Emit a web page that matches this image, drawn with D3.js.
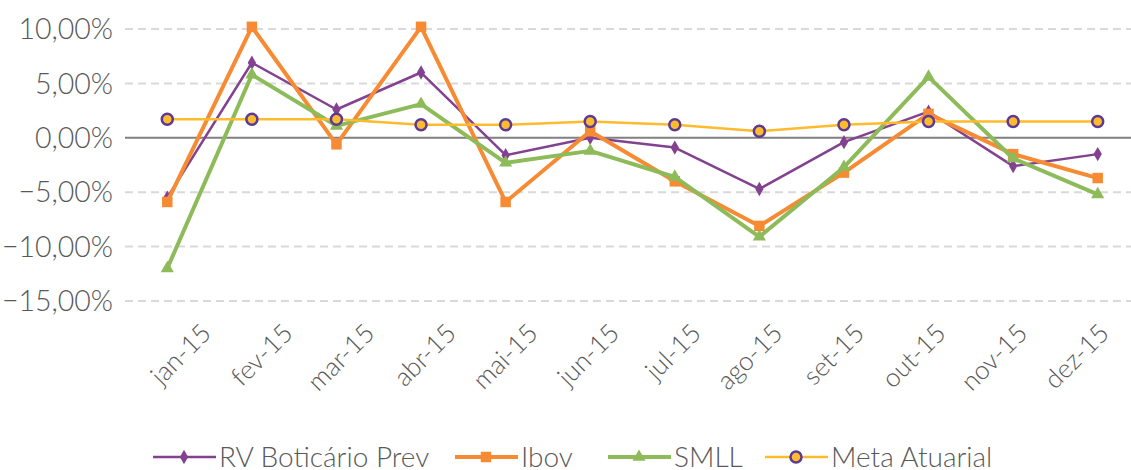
<!DOCTYPE html>
<html>
<head>
<meta charset="utf-8">
<script src="https://cdn.jsdelivr.net/npm/d3@7"></script>
<style>
  body { margin: 0; background: #fff; }
  text { font-family: "Lato", "Open Sans", sans-serif; fill: #595959; }
</style>
</head>
<body>
<div id="chart"></div>
<script>
// data (monthly returns, %)
var months = ["jan-15","fev-15","mar-15","abr-15","mai-15","jun-15","jul-15","ago-15","set-15","out-15","nov-15","dez-15"];
var rvBoticario = [-5.5, 6.9, 2.6, 6.0, -1.6, 0.0, -0.9, -4.7, -0.4, 2.4, -2.6, -1.5];
var ibov = [-5.9, 10.2, -0.6, 10.2, -5.9, 0.6, -4.0, -8.1, -3.2, 2.2, -1.5, -3.7];
var smll = [-12.0, 5.8, 1.1, 3.1, -2.3, -1.2, -3.6, -9.1, -2.7, 5.6, -1.9, -5.2];
var metaAtuarial = [1.7, 1.7, 1.7, 1.2, 1.2, 1.5, 1.2, 0.6, 1.2, 1.5, 1.5, 1.5];
var yTicks = [-15, -10, -5, 0, 5, 10];

var width = 1131, height = 470;

var svg = d3.select("#chart")
    .append("svg")
    .attr("width", width)
    .attr("height", height);

var x = d3.scaleBand().domain(months).range([125, 1140]);
var y = d3.scaleLinear().domain([-15, 10]).range([301, 29]);
function cx(d) { return x(d) + x.bandwidth() / 2; }

// the rotated labels sit on a slightly tighter spacing than the points
var xLab = d3.scalePoint().domain(months).range([199, 1097]);

var fmt = function (v) { return d3.format(".2f")(v).replace(".", ",") + "%"; };

// gridlines
svg.selectAll(".grid")
    .data(yTicks.filter(function (d) { return d !== 0; }))
    .enter().append("line")
    .attr("x1", 125).attr("x2", width)
    .attr("y1", function (d) { return y(d); })
    .attr("y2", function (d) { return y(d); })
    .style("stroke", "#d9d9d9")
    .style("stroke-width", 2)
    .style("stroke-dasharray", "8,5");

svg.append("line")
    .attr("x1", 125).attr("x2", width)
    .attr("y1", y(0)).attr("y2", y(0))
    .style("stroke", "#808080")
    .style("stroke-width", 2);

// y labels
svg.selectAll(".ylab")
    .data(yTicks)
    .enter().append("text")
    .attr("x", 113)
    .attr("y", function (d) { return y(d); })
    .attr("dy", "0.36em")
    .attr("text-anchor", "end")
    .style("font-size", "28.5px")
    .style("font-weight", 300)
    .text(fmt);

// x labels, rotated
svg.selectAll(".xlab")
    .data(months)
    .enter().append("text")
    .attr("transform", function (d) {
        return "translate(" + xLab(d) + ",321) rotate(-45)";
    })
    .attr("text-anchor", "end")
    .attr("dy", "0.75em")
    .style("font-size", "26px")
    .style("font-weight", 300)
    .text(function (d) { return d; });

var series = [
    {name: "RV Boticário Prev", values: rvBoticario, color: "#83428f", width: 2.5, marker: d3.symbolDiamond, msize: 60},
    {name: "Ibov", values: ibov, color: "#f68b33", width: 4, marker: d3.symbolSquare, msize: 110},
    {name: "SMLL", values: smll, color: "#8dbb5a", width: 4, marker: d3.symbolTriangle, msize: 75},
    {name: "Meta Atuarial", values: metaAtuarial, color: "#fdbb2d", width: 2.5, marker: "circle"}
];
var legendX = [153, 455, 608, 765];

var line = d3.line()
    .x(function (d, i) { return cx(months[i]); })
    .y(function (d) { return y(d); });

function drawMarker(g, s, px, py) {
    if (s.marker === "circle") {
        g.append("circle")
            .attr("cx", px).attr("cy", py).attr("r", 5.5)
            .style("fill", "#fdbb2d")
            .style("stroke", "#5b3a96")
            .style("stroke-width", 2.5);
    } else {
        g.append("path")
            .attr("d", d3.symbol().type(s.marker).size(s.msize))
            .attr("transform", "translate(" + px + "," + py + ")")
            .style("fill", s.color);
    }
}

series.forEach(function (s) {
    var g = svg.append("g");
    g.append("path")
        .datum(s.values)
        .attr("d", line)
        .style("fill", "none")
        .style("stroke", s.color)
        .style("stroke-width", s.width)
        .style("stroke-linejoin", "round");
    s.values.forEach(function (v, i) {
        drawMarker(g, s, cx(months[i]), y(v));
    });
});

// legend
var ly = 457;
series.forEach(function (s, i) {
    var lx = legendX[i];
    var g = svg.append("g");
    g.append("line")
        .attr("x1", lx).attr("x2", lx + 63)
        .attr("y1", ly).attr("y2", ly)
        .style("stroke", s.color)
        .style("stroke-width", s.width);
    drawMarker(g, s, lx + 31, ly);
    g.append("text")
        .attr("x", lx + 66)
        .attr("y", ly + 10)
        .style("font-size", "28px")
        .style("font-weight", 300)
        .text(s.name);
});
</script>
</body>
</html>
